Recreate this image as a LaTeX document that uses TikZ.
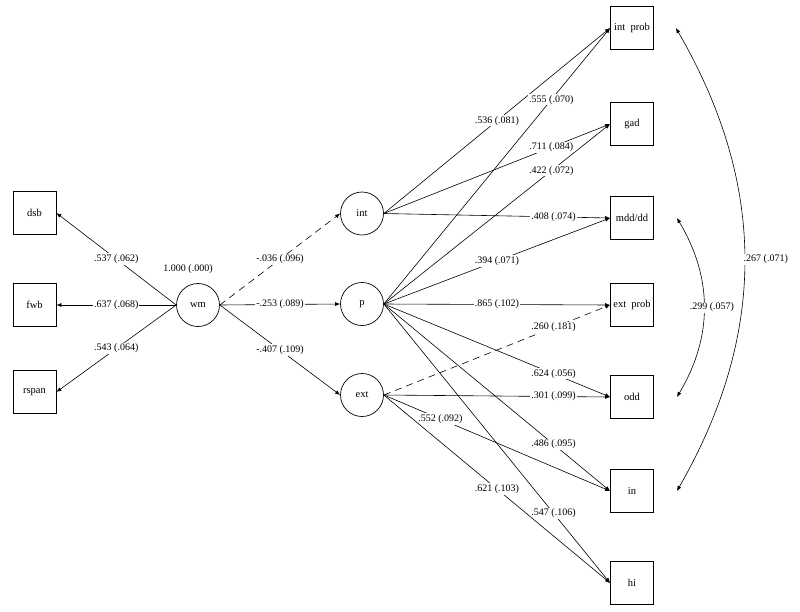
\documentclass[tikz,border=0pt]{standalone}
\usepackage{fontspec}
\setmainfont{Liberation Serif}
\usetikzlibrary{arrows.meta}
\begin{document}
\begin{tikzpicture}[x=1pt,y=-1pt,
  every node/.style={font=\fontsize{10.5}{12}\selectfont},
  obs/.style={draw, line width=0.8pt, minimum width=43pt, minimum height=43pt, inner sep=0pt},
  lat/.style={draw, circle, line width=0.7pt, minimum size=43pt, inner sep=0pt},
  reg/.style={line width=0.6pt, -{Latex[length=5pt,width=4pt]}},
  dreg/.style={reg, dash pattern=on 7pt off 5pt},
  cov/.style={line width=0.6pt, {Latex[length=5pt,width=4pt]}-{Latex[length=5pt,width=4pt]}},
  lab/.style={fill=white, inner sep=1pt, font=\fontsize{10}{11}\selectfont},
]
\useasboundingbox (0,0) rectangle (800,611);
% observed left
\node[obs] (dsb) at (34.5,213) {dsb};
\node[obs] (fwb) at (34.5,305) {fwb};
\node[obs] (rspan) at (34.5,392) {rspan};
% latent
\node[lat] (wm) at (198,305) {wm};
\node[lat] (int) at (362,213.5) {int};
\node[lat] (p) at (362,304) {p};
\node[lat] (ext) at (362,395) {ext};
\node[font=\fontsize{10}{11}\selectfont] (wmvar) at (188,269) {1.000 (.000)};
% observed right
\node[obs] (intprob) at (632,28) {int~~prob};
\node[obs] (gad) at (632,124) {gad};
\node[obs] (mdd) at (632,218) {mdd/dd};
\node[obs] (extprob) at (632,305) {ext~~prob};
\node[obs] (odd) at (632,397) {odd};
\node[obs] (in) at (632,491) {in};
\node[obs] (hi) at (632,583) {hi};
% wm loadings
\draw[reg] (wm.west) -- node[lab]{.537 (.062)} (dsb.east);
\draw[reg] (wm.west) -- node[lab]{.637 (.068)} (fwb.east);
\draw[reg] (wm.west) -- node[lab]{.543 (.064)} (rspan.east);
% wm -> latents
\draw[dreg] (wm.east) -- node[lab]{-.036 (.096)} (int.west);
\draw[reg] (wm.east) -- node[lab]{-.253 (.089)} (p.west);
\draw[reg] (wm.east) -- node[lab]{-.407 (.109)} (ext.west);
% int loadings
\draw[reg] (int.east) -- node[lab,pos=0.5]{.536 (.081)} (intprob.west);
\draw[reg] (int.east) -- node[lab,pos=0.74]{.711 (.084)} (gad.west);
\draw[reg] (int.east) -- node[lab,pos=0.75]{.408 (.074)} (mdd.west);
% p loadings
\draw[reg] (p.east) -- node[lab,pos=0.74]{.555 (.070)} (intprob.west);
\draw[reg] (p.east) -- node[lab,pos=0.74]{.422 (.072)} (gad.west);
\draw[reg] (p.east) -- node[lab,pos=0.5]{.394 (.071)} (mdd.west);
\draw[reg] (p.east) -- node[lab,pos=0.5]{.865 (.102)} (extprob.west);
\draw[reg] (p.east) -- node[lab,pos=0.75]{.624 (.056)} (odd.west);
\draw[reg] (p.east) -- node[lab,pos=0.75]{.486 (.095)} (in.west);
\draw[reg] (p.east) -- node[lab,pos=0.75]{.547 (.106)} (hi.west);
% ext loadings
\draw[dreg] (ext.east) -- node[lab,pos=0.75]{.260 (.181)} (extprob.west);
\draw[reg] (ext.east) -- node[lab,pos=0.75]{.301 (.099)} (odd.west);
\draw[reg] (ext.east) -- node[lab,pos=0.25]{.552 (.092)} (in.west);
\draw[reg] (ext.east) -- node[lab,pos=0.5]{.621 (.103)} (hi.west);
% residual covariances
\coordinate (c1) at ([xshift=22pt]intprob.east);
\coordinate (c2) at ([xshift=23pt]in.east);
\coordinate (c3) at ([xshift=23pt]mdd.east);
\coordinate (c4) at ([xshift=23pt]odd.east);
\draw[cov] (c1) to[bend left=30] node[lab, anchor=west, xshift=-2pt]{.267 (.071)} (c2);
\draw[cov] (c3) to[bend left=31] node[lab, xshift=8pt]{.299 (.057)} (c4);
\end{tikzpicture}
\end{document}
